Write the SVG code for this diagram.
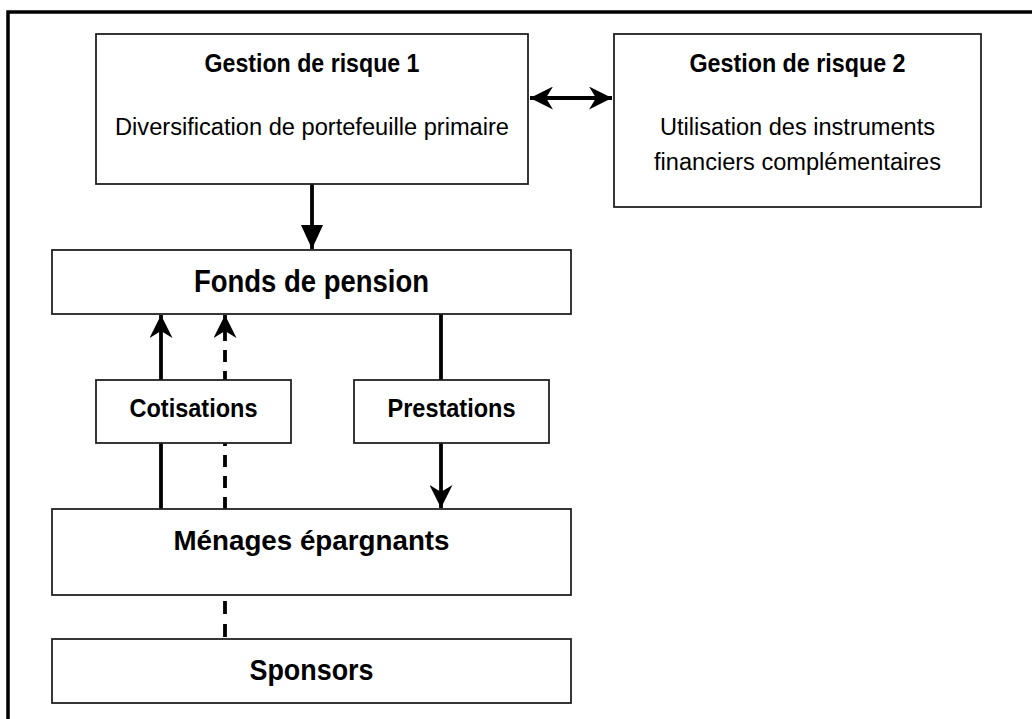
<svg xmlns="http://www.w3.org/2000/svg" width="1032" height="719" viewBox="0 0 1032 719">
<style>
  .box { fill: #ffffff; stroke: #222222; stroke-width: 1.8; }
  .frame { fill: none; stroke: #000000; stroke-width: 3.5; }
  .t { font-family: "Liberation Sans Narrow", "Liberation Sans", "Arial Narrow", sans-serif; fill: #000000; text-anchor: middle; }
  .b { font-weight: bold; }
  .conn { stroke: #000000; stroke-width: 3.8; fill: none; }
  .dash { stroke-dasharray: 12 9; }
</style>
<defs>
  <marker id="notch" viewBox="0 0 23 23" refX="23" refY="11.5" markerWidth="23" markerHeight="23" markerUnits="userSpaceOnUse" orient="auto-start-reverse">
    <path d="M0,0 L23,11.5 L0,23 L7,11.5 Z" fill="#000000"/>
  </marker>
  <marker id="tri" viewBox="0 0 24 22" refX="24" refY="11" markerWidth="24" markerHeight="22" markerUnits="userSpaceOnUse" orient="auto">
    <path d="M0,0 L24,11 L0,22 Z" fill="#000000"/>
  </marker>
</defs>
<rect class="frame" x="8" y="12" width="1100" height="800"/>
<g id="connectors">
  <line class="conn" x1="530" y1="98" x2="612" y2="98" marker-start="url(#notch)" marker-end="url(#notch)"/>
  <line class="conn" x1="312" y1="184" x2="312" y2="249" marker-end="url(#tri)"/>
  <line class="conn" x1="161" y1="509" x2="161" y2="315" marker-end="url(#notch)"/>
  <line class="conn dash" x1="225" y1="509" x2="225" y2="315" marker-end="url(#notch)"/>
  <line class="conn" x1="441" y1="314" x2="441" y2="380"/>
  <line class="conn" x1="441" y1="443" x2="441" y2="508" marker-end="url(#notch)"/>
  <line class="conn dash" x1="225" y1="596" x2="225" y2="639" style="stroke-dasharray: 13 10; stroke-dashoffset: -5"/>
</g>
<g id="gr1">
  <rect class="box" x="96" y="34" width="432" height="150"/>
  <text class="t b" x="312" y="72" font-size="25.5" textLength="215" lengthAdjust="spacingAndGlyphs">Gestion de risque 1</text>
  <text class="t" x="312" y="135" font-size="23.5" textLength="394" lengthAdjust="spacingAndGlyphs">Diversification de portefeuille primaire</text>
</g>
<g id="gr2">
  <rect class="box" x="614" y="34" width="367" height="173"/>
  <text class="t b" x="797.5" y="72" font-size="25.5" textLength="216" lengthAdjust="spacingAndGlyphs">Gestion de risque 2</text>
  <text class="t" x="797.5" y="135" font-size="23.5" textLength="275" lengthAdjust="spacingAndGlyphs">Utilisation des instruments</text>
  <text class="t" x="797.5" y="170" font-size="23.5" textLength="287" lengthAdjust="spacingAndGlyphs">financiers complémentaires</text>
</g>
<g id="fonds">
  <rect class="box" x="52" y="250" width="519" height="64"/>
  <text class="t b" x="311.5" y="292" font-size="32" textLength="235" lengthAdjust="spacingAndGlyphs">Fonds de pension</text>
</g>
<g id="cotisations">
  <rect class="box" x="96" y="380" width="195" height="63"/>
  <text class="t b" x="193.5" y="417" font-size="25.5" textLength="128" lengthAdjust="spacingAndGlyphs">Cotisations</text>
</g>
<g id="prestations">
  <rect class="box" x="354" y="380" width="195" height="63"/>
  <text class="t b" x="451.5" y="417" font-size="25.5" textLength="128" lengthAdjust="spacingAndGlyphs">Prestations</text>
</g>
<g id="menages">
  <rect class="box" x="52" y="509" width="519" height="86"/>
  <text class="t b" x="311.5" y="550" font-size="28.5" textLength="276" lengthAdjust="spacingAndGlyphs">Ménages épargnants</text>
</g>
<g id="sponsors">
  <rect class="box" x="52" y="639" width="519" height="64"/>
  <text class="t b" x="311.5" y="680" font-size="29" textLength="124" lengthAdjust="spacingAndGlyphs">Sponsors</text>
</g>
</svg>
